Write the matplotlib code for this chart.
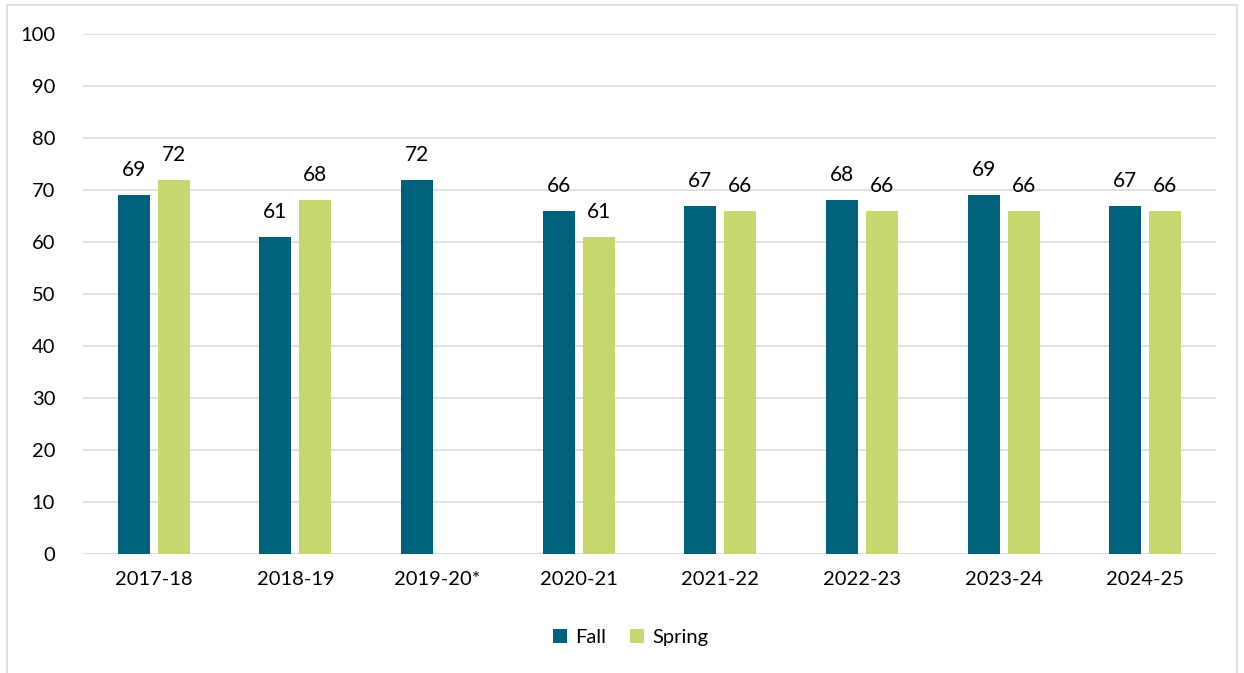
import numpy as np
import matplotlib
matplotlib.use('Agg')
import matplotlib.pyplot as plt
from matplotlib.patches import Rectangle

years = ['2017-18', '2018-19', '2019-20*', '2020-21', '2021-22', '2022-23', '2023-24', '2024-25']
fall = [69, 61, 72, 66, 67, 68, 69, 67]
spring = [72, 68, np.nan, 61, 66, 66, 66, 66]

fall_color = '#00627A'
spring_color = '#C5D86D'

plt.rcParams['font.family'] = ['Lato', 'DejaVu Sans']
fs = 14.5

fig = plt.figure(figsize=(12.44, 6.73), dpi=100)
ax = fig.add_axes([0.0667, 0.1768, 0.9108, 0.7727])

x = np.arange(len(years))
w = 0.226
off = 0.141
b1 = ax.bar(x - off, fall, w, color=fall_color, label='Fall', zorder=3)
b2 = ax.bar(x + off, spring, w, color=spring_color, label='Spring', zorder=3)

# value labels above each bar
for xi, v in zip(x, fall):
    ax.text(xi - off, v + 2.9, f'{v:.0f}', ha='center', va='bottom', fontsize=fs + 0.5, color='#000000')
for xi, v in zip(x, spring):
    if not np.isnan(v):
        ax.text(xi + off, v + 2.9, f'{v:.0f}', ha='center', va='bottom', fontsize=fs + 0.5, color='#000000')

ax.set_xlim(-0.5, len(years) - 0.5)
ax.set_ylim(0, 100)
ax.set_yticks(range(0, 101, 10))
ax.set_xticks(x)
ax.set_xticklabels(years)
ax.grid(True, axis='y', color='#D9D9D9', linewidth=1.2, zorder=0)
for s in ax.spines.values():
    s.set_visible(False)
ax.tick_params(axis='both', length=0, labelsize=fs)
ax.tick_params(axis='y', pad=20)
ax.tick_params(axis='x', pad=12)

fig.legend(handles=[b1, b2], loc='center', bbox_to_anchor=(0.507, 0.053), ncol=2,
           frameon=False, fontsize=fs, handlelength=0.7, handleheight=0.7,
           handletextpad=0.4, columnspacing=1.2)

# light outer border around the chart
fig.patches.append(Rectangle((7 / 1244, -0.01), 1230 / 1244, 1 - 5 / 673 + 0.01,
                             transform=fig.transFigure, fill=False,
                             edgecolor='#D9D9D9', linewidth=1.2))

fig.savefig('out.png', dpi=100)
